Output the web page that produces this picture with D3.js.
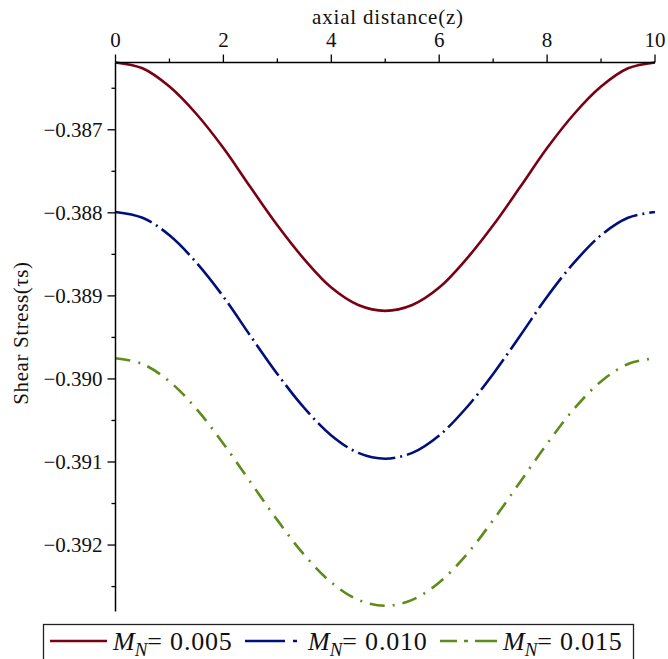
<!DOCTYPE html>
<html>
<head>
<meta charset="utf-8">
<script src="https://cdn.jsdelivr.net/npm/d3@7"></script>
<style>
  html, body { margin: 0; padding: 0; background: #fff; }
  svg { display: block; }
  text { font-family: "Liberation Serif", "Times New Roman", serif; fill: #111; }
</style>
</head>
<body>
<svg id="chart" width="668" height="659"></svg>
<script>
// ---- data ----
const zValues = [0, 0.5, 1, 1.5, 2, 2.5, 3, 3.5, 4, 4.5, 5, 5.5, 6, 6.5, 7, 7.5, 8, 8.5, 9, 9.5, 10];
const seriesMN005 = [-0.38619, -0.38626, -0.38648, -0.38681, -0.38722, -0.38769, -0.38815, -0.38856, -0.38890, -0.38911, -0.38918,
                     -0.38911, -0.38890, -0.38856, -0.38815, -0.38769, -0.38722, -0.38681, -0.38648, -0.38626, -0.38619];
const seriesMN010 = [-0.38799, -0.38806, -0.38827, -0.38860, -0.38901, -0.38948, -0.38994, -0.39035, -0.39068, -0.39089, -0.39096,
                     -0.39089, -0.39068, -0.39035, -0.38994, -0.38948, -0.38901, -0.38860, -0.38827, -0.38806, -0.38799];
const seriesMN015 = [-0.38975, -0.38982, -0.39003, -0.39036, -0.39078, -0.39124, -0.39170, -0.39212, -0.39245, -0.39266, -0.39273,
                     -0.39266, -0.39245, -0.39212, -0.39170, -0.39124, -0.39078, -0.39036, -0.39003, -0.38982, -0.38975];
const seriesLabels = ["0.005", "0.010", "0.015"];
const xTicks = [0, 2, 4, 6, 8, 10];
const xMinorTicks = [1, 3, 5, 7, 9];
const yTicks = [-0.387, -0.388, -0.389, -0.390, -0.391, -0.392];
const yMinorTicks = [-0.3865, -0.3875, -0.3885, -0.3895, -0.3905, -0.3915, -0.3925];
const xTitle = "axial distance(z)";
const yTitle = "Shear Stress(\u03C4s)";

// ---- layout ----
const svg = d3.select("#chart");
const x = d3.scaleLinear().domain([0, 10]).range([115.5, 655]);
const y = d3.scaleLinear().domain([-0.3928, -0.38619]).range([611.5, 62.5]);

const colors = ["#7A0014", "#00107A", "#5E8C1A"];
const dashes = [null, "38,5,2,5", "15,8,2,8"];
const series = [seriesMN005, seriesMN010, seriesMN015];

// curves
const line = d3.line()
  .x(d => x(d[0]))
  .y(d => y(d[1]))
  .curve(d3.curveCatmullRom);

series.forEach((s, i) => {
  svg.append("path")
    .datum(zValues.map((z, k) => [z, s[k]]))
    .attr("d", line)
    .attr("fill", "none")
    .attr("stroke", colors[i])
    .attr("stroke-width", 2.6)
    .attr("stroke-dasharray", dashes[i]);
});

// top x axis
const gx = svg.append("g").attr("transform", `translate(0,${y.range()[1]})`);
gx.append("line").attr("x1", x(0)).attr("x2", x(10)).attr("y1", 0).attr("y2", 0)
  .attr("stroke", "#000").attr("stroke-width", 1.5);
gx.selectAll("line.maj").data(xTicks).enter().append("line")
  .attr("x1", d => x(d)).attr("x2", d => x(d)).attr("y1", 0).attr("y2", -8)
  .attr("stroke", "#000").attr("stroke-width", 1.3);
gx.selectAll("line.min").data(xMinorTicks).enter().append("line")
  .attr("x1", d => x(d)).attr("x2", d => x(d)).attr("y1", 0).attr("y2", -4)
  .attr("stroke", "#000").attr("stroke-width", 1.3);
gx.selectAll("text.tl").data(xTicks).enter().append("text")
  .attr("x", d => x(d)).attr("y", -16)
  .attr("text-anchor", "middle")
  .attr("font-size", 21)
  .text(d => d);
svg.append("text")
  .attr("x", 388).attr("y", 24)
  .attr("text-anchor", "middle")
  .attr("font-size", 21)
  .attr("letter-spacing", 0.8)
  .text(xTitle);

// left y axis
const gy = svg.append("g").attr("transform", `translate(${x(0)},0)`);
gy.append("line").attr("x1", 0).attr("x2", 0).attr("y1", y.range()[1]).attr("y2", y.range()[0])
  .attr("stroke", "#000").attr("stroke-width", 1.5);
gy.selectAll("line.maj").data(yTicks).enter().append("line")
  .attr("x1", 0).attr("x2", -8).attr("y1", d => y(d)).attr("y2", d => y(d))
  .attr("stroke", "#000").attr("stroke-width", 1.3);
gy.selectAll("line.min").data(yMinorTicks).enter().append("line")
  .attr("x1", 0).attr("x2", -4).attr("y1", d => y(d)).attr("y2", d => y(d))
  .attr("stroke", "#000").attr("stroke-width", 1.3);
gy.selectAll("text.tl").data(yTicks).enter().append("text")
  .attr("x", -13).attr("y", d => y(d))
  .attr("dy", "0.35em")
  .attr("text-anchor", "end")
  .attr("font-size", 21)
  .text(d => "\u2212" + d3.format(".3f")(-d));
svg.append("text")
  .attr("transform", "translate(28,333) rotate(-90)")
  .attr("text-anchor", "middle")
  .attr("font-size", 21)
  .attr("letter-spacing", 0.6)
  .text(yTitle);

// legend
const lg = svg.append("g");
lg.append("rect").attr("x", 43.5).attr("y", 624.5).attr("width", 590).attr("height", 50)
  .attr("fill", "#fff").attr("stroke", "#222").attr("stroke-width", 1.3);
const legX = [50, 245, 440];
const legDash = [null, "40,8,4,20", "17,7,4,7,30"];
seriesLabels.forEach((lab, i) => {
  const g = lg.append("g").attr("transform", `translate(${legX[i]},641)`);
  g.append("line").attr("x1", 0).attr("x2", 57).attr("y1", 0).attr("y2", 0)
    .attr("stroke", colors[i]).attr("stroke-width", 2.6)
    .attr("stroke-dasharray", legDash[i]);
  const t = g.append("text").attr("x", 63).attr("y", 9).attr("font-size", 26);
  t.append("tspan").attr("font-style", "italic").text("M");
  t.append("tspan").attr("font-style", "italic").attr("font-size", 19).attr("dy", 6).text("N");
  t.append("tspan").attr("dy", -6).attr("letter-spacing", 0.8).text("= " + lab);
});
</script>
</body>
</html>
